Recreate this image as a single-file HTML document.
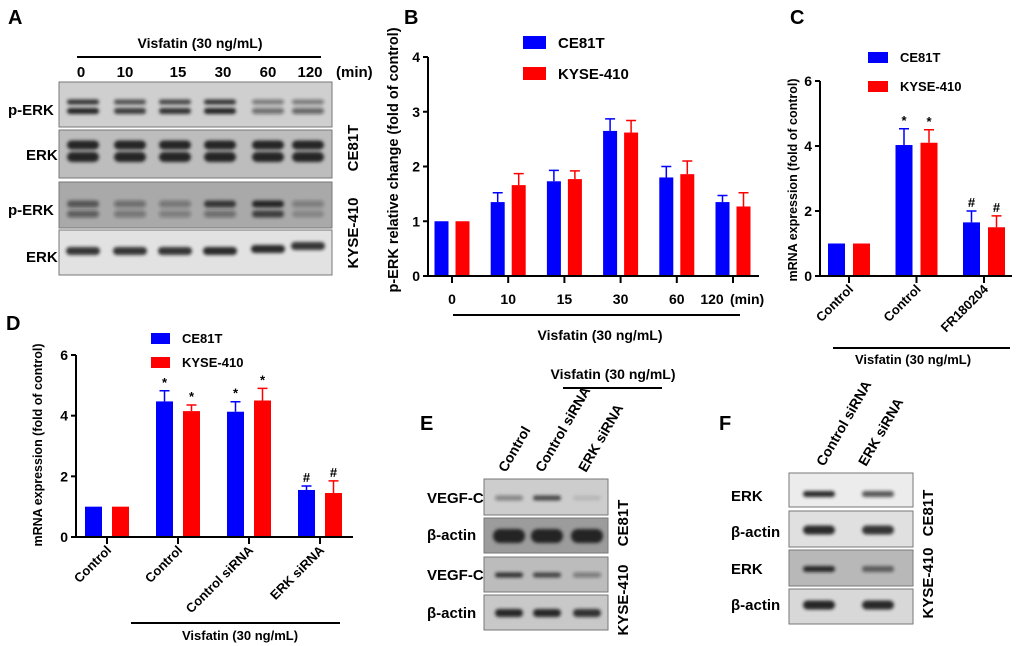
<!DOCTYPE html>
<html><head><meta charset="utf-8"><style>
html,body{margin:0;padding:0;background:#fff;overflow:hidden;}
svg{display:block;font-family:"Liberation Sans",Arial,sans-serif;font-weight:bold;}
</style></head><body>
<svg id="fig" width="1020" height="646" viewBox="0 0 1020 646" xmlns="http://www.w3.org/2000/svg">
<defs>
<filter id="blur" x="-20%" y="-50%" width="140%" height="200%"><feGaussianBlur stdDeviation="1.6"/></filter>
</defs>
<text x="8" y="24" font-size="20">A</text>
<text x="404" y="24" font-size="20">B</text>
<text x="790" y="24" font-size="20">C</text>
<text x="6" y="330" font-size="20">D</text>
<text x="420" y="430" font-size="20">E</text>
<text x="719" y="430" font-size="20">F</text>

<!-- Panel A -->
<g font-size="14">
<text x="200" y="48" text-anchor="middle">Visfatin (30 ng/mL)</text>
<line x1="77" y1="57" x2="321" y2="57" stroke="#000" stroke-width="2"/>
<g text-anchor="middle" font-size="15">
<text x="81" y="77">0</text><text x="125" y="77">10</text><text x="178" y="77">15</text><text x="223" y="77">30</text><text x="268" y="77">60</text><text x="310" y="77">120</text>
</g>
<text x="336" y="77" font-size="15">(min)</text>
<text x="8" y="115" font-size="15">p-ERK</text>
<text x="26" y="160" font-size="15">ERK</text>
<text x="8" y="215" font-size="15">p-ERK</text>
<text x="26" y="262" font-size="15">ERK</text>
<text transform="translate(358,148) rotate(-90)" text-anchor="middle" font-size="15">CE81T</text>
<text transform="translate(358,233) rotate(-90)" text-anchor="middle" font-size="15">KYSE-410</text>
<rect x="59" y="82" width="273" height="45" fill="#cfcfcf" stroke="#777"/>
<rect x="59" y="130" width="273" height="48" fill="#bdbdbd" stroke="#777"/>
<rect x="59" y="182" width="273" height="46" fill="#a9a9a9" stroke="#777"/>
<rect x="59" y="230" width="273" height="45" fill="#e2e2e2" stroke="#777"/>
<g id="bandsA" filter="url(#blur)" fill="#1a1a1a"></g>
</g>

<!-- Panel E -->
<g font-size="14">
<text x="613" y="379" text-anchor="middle">Visfatin (30 ng/mL)</text>
<line x1="563" y1="388" x2="662" y2="388" stroke="#000" stroke-width="2"/>
<text transform="translate(506,473) rotate(-60)">Control</text>
<text transform="translate(543,473) rotate(-60)">Control siRNA</text>
<text transform="translate(586,473) rotate(-60)">ERK siRNA</text>
<text x="427" y="503" font-size="15">VEGF-C</text>
<text x="427" y="540" font-size="15">β-actin</text>
<text x="427" y="580" font-size="15">VEGF-C</text>
<text x="427" y="618" font-size="15">β-actin</text>
<text transform="translate(628,523) rotate(-90)" text-anchor="middle" font-size="15">CE81T</text>
<text transform="translate(628,600) rotate(-90)" text-anchor="middle" font-size="15">KYSE-410</text>
<rect x="484" y="479" width="124" height="36" fill="#cdcdcd" stroke="#777"/>
<rect x="484" y="518" width="124" height="35" fill="#9c9c9c" stroke="#777"/>
<rect x="484" y="557" width="124" height="35" fill="#bcbcbc" stroke="#777"/>
<rect x="484" y="595" width="124" height="35" fill="#c8c8c8" stroke="#777"/>
<g id="bandsE" filter="url(#blur)" fill="#1a1a1a"></g>
</g>

<!-- Panel F -->
<g font-size="14">
<text transform="translate(824,467) rotate(-60)">Control siRNA</text>
<text transform="translate(866,467) rotate(-60)">ERK siRNA</text>
<text x="731" y="501" font-size="15">ERK</text>
<text x="731" y="537" font-size="15">β-actin</text>
<text x="731" y="574" font-size="15">ERK</text>
<text x="731" y="610" font-size="15">β-actin</text>
<text transform="translate(933,513) rotate(-90)" text-anchor="middle" font-size="15">CE81T</text>
<text transform="translate(933,583) rotate(-90)" text-anchor="middle" font-size="15">KYSE-410</text>
<rect x="789" y="473" width="124" height="34" fill="#ececec" stroke="#777"/>
<rect x="789" y="511" width="124" height="36" fill="#e0e0e0" stroke="#777"/>
<rect x="789" y="550" width="124" height="36" fill="#b8b8b8" stroke="#777"/>
<rect x="789" y="589" width="124" height="35" fill="#d8d8d8" stroke="#777"/>
<g id="bandsF" filter="url(#blur)" fill="#1a1a1a"></g>
</g>

<g id="chartB"></g>
<g id="chartC"></g>
<g id="chartD"></g>
</svg>
<script>
// ---- Chart B data ----
const bCategories = ["0","10","15","30","60","120"];
const bCE81T = [1, 1.35, 1.73, 2.65, 1.8, 1.35];
const bCE81TErr = [0, 0.17, 0.2, 0.22, 0.2, 0.12];
const bKYSE = [1, 1.66, 1.77, 2.62, 1.86, 1.27];
const bKYSEErr = [0, 0.21, 0.15, 0.22, 0.24, 0.25];
const bTicks = [0,1,2,3,4];
// ---- Chart C data ----
const cCategories = ["Control","Control","FR180204"];
const cCE81T = [1, 4.03, 1.65];
const cCE81TErr = [0, 0.5, 0.35];
const cKYSE = [1, 4.1, 1.5];
const cKYSEErr = [0, 0.4, 0.35];
const cMarks = ["", "*", "#"];
const cTicks = [0,2,4,6];
// ---- Chart D data ----
const dCategories = ["Control","Control","Control siRNA","ERK siRNA"];
const dCE81T = [1, 4.47, 4.13, 1.55];
const dCE81TErr = [0, 0.35, 0.33, 0.13];
const dKYSE = [1, 4.15, 4.5, 1.45];
const dKYSEErr = [0, 0.2, 0.4, 0.4];
const dMarks = ["", "*", "*", "#"];
const dTicks = [0,2,4,6];

const NS = "http://www.w3.org/2000/svg";
function mk(parent, tag, attrs, txt){
  const e = document.createElementNS(NS, tag);
  for (const k in attrs) e.setAttribute(k, attrs[k]);
  if (txt !== undefined) e.textContent = txt;
  parent.appendChild(e); return e;
}
function drawChart(g, o){
  const yS = v => o.y0 - (v/o.ymax)*(o.y0-o.ytop);
  const xC = i => o.firstTick + i*o.spacing;
  const series = [[o.s1,o.e1,"#0000ff",-o.off],[o.s2,o.e2,"#ff0000",o.off]];
  series.forEach((s,si)=>{
    s[0].forEach((v,i)=>{
      const cx = xC(i)+s[3];
      const top = yS(v);
      const r = mk(g,"rect",{x:cx-o.bw/2,y:top,width:o.bw,height:o.y0-top,fill:s[2]});
      
      
      const err = s[1][i];
      if (err>0){
        const ye = yS(v+err);
        const l = mk(g,"path",{d:`M${cx} ${top} V${ye} M${cx-5} ${ye} H${cx+5}`,stroke:s[2],"stroke-width":1.5,fill:"none"});
        
        
      }
      if (o.marks && o.marks[i]){
        const ye = yS(v+err);
        const t = mk(g,"text",{x:cx,y:ye-4,"text-anchor":"middle","font-size":13},o.marks[i]);
        
        
      }
    });
  });
  const ax = mk(g,"path",{d:`M${o.x0} ${o.ytop} V${o.y0} H${o.xend}`,stroke:"#000","stroke-width":2,fill:"none"});
  
  
  o.ticks.forEach(t=>{
    const y = yS(t);
    mk(g,"line",{x1:o.x0-5,y1:y,x2:o.x0,y2:y,stroke:"#000","stroke-width":2});
    const tl = mk(g,"text",{x:o.x0-8,y:y+5,"text-anchor":"end","font-size":14},String(t));
    
    
  });
  o.cats.forEach((c,i)=>{
    const x = xC(i);
    mk(g,"line",{x1:x,y1:o.y0,x2:x,y2:o.y0+7,stroke:"#000","stroke-width":2});
    let t;
    if (o.rot){
      t = mk(g,"text",{transform:`translate(${x+5},${o.y0+14}) rotate(-45)`,"text-anchor":"end","font-size":13},c);
    } else {
      t = mk(g,"text",{x:x+(i===o.cats.length-1?o.lastShift:0),y:o.y0+28,"text-anchor":"middle","font-size":14},c);
    }
    
    
  });
  const yt = mk(g,"text",{transform:`translate(${o.ytx},${o.yty}) rotate(-90)`,"text-anchor":"middle","font-size":o.ytfs},o.ytitle);
  
  
  [["CE81T","#0000ff",0],["KYSE-410","#ff0000",1]].forEach(L=>{
    const ly = o.ly + L[2]*o.lgap;
    const lr = mk(g,"rect",{x:o.lx,y:ly,width:o.lw,height:o.lh,fill:L[1]});
    
    
    const lt = mk(g,"text",{x:o.lx+o.lw+12,y:ly+o.lh-1,"font-size":o.lfs},L[0]);
    
    
  });
  const vl = mk(g,"line",{x1:o.vx1,y1:o.vy,x2:o.vx2,y2:o.vy,stroke:"#000","stroke-width":2});
  
  
  const vt = mk(g,"text",{x:o.vtx,y:o.vty,"text-anchor":"middle","font-size":o.vfs},"Visfatin (30 ng/mL)");
  
  
}
drawChart(document.getElementById("chartB"),{
  s1:bCE81T,e1:bCE81TErr,s2:bKYSE,e2:bKYSEErr,cats:bCategories,ticks:bTicks,
  x0:428,xend:759,y0:276,ytop:57,ymax:4,firstTick:452,spacing:56.2,bw:14,off:10.5,lastShift:-21,
  ytitle:"p-ERK relative change (fold of control)",ytx:398,yty:160,ytfs:14.5,
  lx:523,ly:36,lgap:31,lw:23,lh:13,lfs:15,
  vx1:453,vx2:740,vy:315,vtx:600,vty:340,vfs:14
});
(function(){const t=mk(document.getElementById("chartB"),"text",{x:730,y:304,"font-size":14},"(min)");

})();
drawChart(document.getElementById("chartC"),{
  s1:cCE81T,e1:cCE81TErr,s2:cKYSE,e2:cKYSEErr,cats:cCategories,ticks:cTicks,marks:cMarks,rot:true,
  x0:820,xend:1012,y0:276,ytop:81,ymax:6,firstTick:849,spacing:67.5,bw:17,off:12.5,
  ytitle:"mRNA expression (fold of control)",ytx:797,yty:180,ytfs:12.5,
  lx:868,ly:52,lgap:29,lw:20,lh:11,lfs:13,
  vx1:833,vx2:1010,vy:348,vtx:913,vty:364,vfs:13
});
drawChart(document.getElementById("chartD"),{
  s1:dCE81T,e1:dCE81TErr,s2:dKYSE,e2:dKYSEErr,cats:dCategories,ticks:dTicks,marks:dMarks,rot:true,
  x0:76,xend:353,y0:537,ytop:355,ymax:6,firstTick:107,spacing:71,bw:17,off:13.5,
  ytitle:"mRNA expression (fold of control)",ytx:42,yty:445,ytfs:12.5,
  lx:151,ly:333,lgap:24,lw:19,lh:11,lfs:13,
  vx1:131,vx2:340,vy:623,vtx:240,vty:640,vfs:13
});

function band(gid,cx,cy,w,h,op){
  const e = mk(document.getElementById(gid),"rect",{x:cx-w/2,y:cy-h/2,width:w,height:h,rx:h/2,opacity:op});
  
  
}
const laneA=[83,130,175,220,268,308];
const aOp1=[0.85,0.7,0.75,0.85,0.45,0.45],aOp2=[0.95,0.8,0.85,0.95,0.5,0.55];
laneA.forEach((x,i)=>{band("bandsA",x,102,32,5,aOp1[i]);band("bandsA",x,111,32,6,aOp2[i]);
 band("bandsA",x,145,32,9,0.95);band("bandsA",x,157,32,10,0.95);});
const aK1=[0.6,0.4,0.35,0.8,0.9,0.3],aK2=[0.5,0.35,0.3,0.4,0.75,0.2],aE=[0.85,0.85,0.85,0.9,0.9,0.85];
laneA.forEach((x,i)=>{band("bandsA",x,204,32,7,aK1[i]);band("bandsA",x,214,32,7,aK2[i]);
 band("bandsA",x,251-(i>3?2:0)-(i===5?3:0),34,8,aE[i]);});
const laneE=[509,547,587];
[0.4,0.75,0.1].forEach((o,i)=>band("bandsE",laneE[i],498,28,5,o));
laneE.forEach(x=>band("bandsE",x,536,32,14,0.95));
[0.85,0.75,0.4].forEach((o,i)=>band("bandsE",laneE[i],575,28,5,o));
[0.9,0.9,0.85].forEach((o,i)=>band("bandsE",laneE[i],613,28,8,o));
const laneF=[819,878];
[0.9,0.7].forEach((o,i)=>band("bandsF",laneF[i],494,32,6,o));
[0.9,0.85].forEach((o,i)=>band("bandsF",laneF[i],530,32,9,o));
[0.9,0.6].forEach((o,i)=>band("bandsF",laneF[i],569,32,6,o));
[0.95,0.9].forEach((o,i)=>band("bandsF",laneF[i],605,32,9,o));
</script>
</body></html>
